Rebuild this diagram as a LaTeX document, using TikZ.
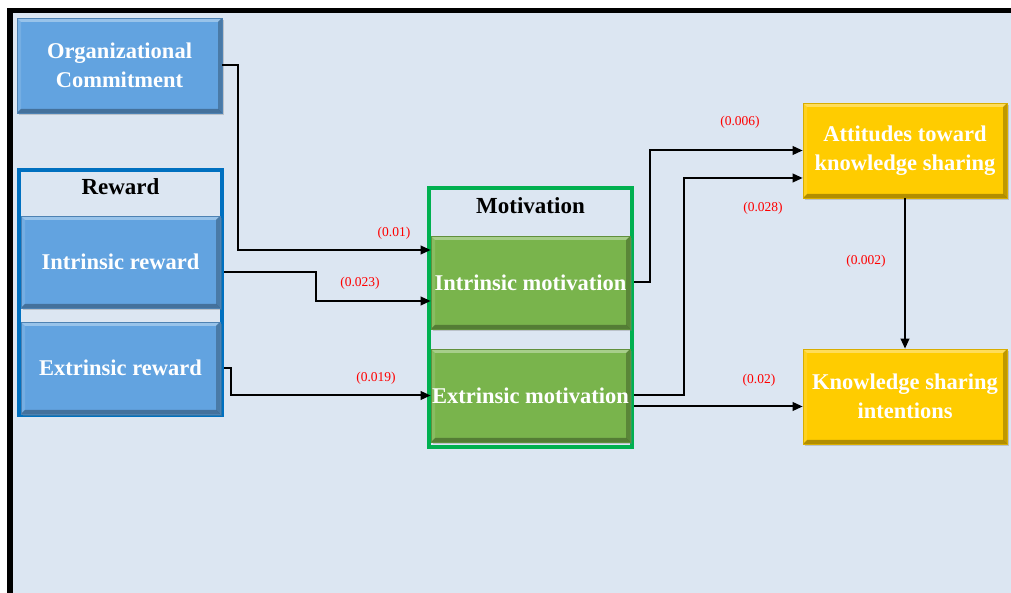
\documentclass[tikz,border=0pt]{standalone}
\usepackage{fontspec}
\setmainfont{Liberation Serif}
\usetikzlibrary{calc,arrows.meta,shadows}
\definecolor{bgc}{HTML}{DCE6F2}
\definecolor{bluec}{HTML}{62A3E0}
\definecolor{blueln}{HTML}{0070C0}
\definecolor{greenc}{HTML}{79B44C}
\definecolor{greenln}{HTML}{00B050}
\definecolor{yellc}{HTML}{FFCC00}
\definecolor{lblc}{HTML}{FF0000}
\tikzset{
  ar/.style={-{Triangle[length=10pt,width=8.5pt]},line width=2pt,black},
  bevel/.style={path picture={
    \coordinate (ppnw) at (path picture bounding box.north west);
    \coordinate (ppse) at (path picture bounding box.south east);
    \fill[white,opacity=.35] (ppnw) -- (ppnw -| ppse) -- ++(-4,-4) -- ($(ppnw)+(4,-4)$) -- cycle;
    \fill[white,opacity=.12] (ppnw) -- (ppnw |- ppse) -- ++(4,4) -- ($(ppnw)+(4,-4)$) -- cycle;
    \fill[black,opacity=.25] (ppse) -- (ppse |- ppnw) -- ++(-4,-4) -- ($(ppse)+(-4,4)$) -- cycle;
    \fill[black,opacity=.3] (ppse) -- (ppnw |- ppse) -- ++(4,4) -- ($(ppse)+(-4,4)$) -- cycle;}},
  cbox/.style={bevel,align=center,text=white,inner xsep=0.5pt,inner ysep=2pt,line width=.6pt,
    font=\fontsize{22.5}{29.5}\selectfont\bfseries,
    drop shadow={opacity=.35,shadow xshift=1.5pt,shadow yshift=-2pt}},
  blbox/.style={cbox,fill=bluec,draw=bluec!80!black},
  grbox/.style={cbox,fill=greenc,draw=greenc!80!black},
  ylbox/.style={cbox,fill=yellc,draw=yellc!85!black},
  grp/.style={line width=4pt,fill=bgc},
  ttl/.style={font=\fontsize{23}{28}\selectfont\bfseries},
  lbl/.style={text=lblc,font=\fontsize{13.5}{15}\selectfont}
}
\begin{document}
\begin{tikzpicture}[x=1pt,y=1pt]
\useasboundingbox (0,0) rectangle (1011,593);
\fill[bgc] (13,0) rectangle (1011,580);
\fill[black] (7,0) rectangle (13,585);
\fill[black] (7,580) rectangle (1011,585);
% left side
\node[blbox,minimum width=205,minimum height=95] (org) at (119.5,527.5) {Organizational\\Commitment};
\node[grp,draw=blueln,minimum width=203,minimum height=245] (rwd) at (120.5,300.5) {};
\node[ttl] (rwdt) at (120.5,406) {Reward};
\node[blbox,minimum width=199,minimum height=92] (ir) at (120.5,331) {Intrinsic reward};
\node[blbox,minimum width=199,minimum height=92] (er) at (120.5,225) {Extrinsic reward};
% middle
\node[grp,draw=greenln,minimum width=203,minimum height=259] (mot) at (530.5,275.5) {};
\node[ttl] (mott) at (530.5,387) {Motivation};
\node[grbox,minimum width=199,minimum height=93] (im) at (530.5,310.5) {Intrinsic motivation};
\node[grbox,minimum width=199,minimum height=93] (em) at (530.5,197.5) {Extrinsic motivation};
% right side
\node[ylbox,minimum width=204,minimum height=95] (att) at (905,442.5) {Attitudes toward\\knowledge sharing};
\node[ylbox,minimum width=204,minimum height=95] (ksi) at (905,196.5) {Knowledge sharing\\intentions};
% paths
\coordinate (b1) at (238,343);
\coordinate (b2) at (316,292);
\coordinate (b5) at (684,415);
\draw[ar] (org.east) -| (b1) -- (b1 -| im.west);
\draw[ar] ($(rwd.east |- ir.east)+(0,-10)$) -| (b2) -- (b2 -| im.west);
\draw[ar] (rwd.east |- er.east) -- ++(7,0) |- (em.west);
\draw[ar] (mot.east |- im.east) -- ++(16,0) |- (att.west);
\draw[ar] (mot.east |- em.east) -| (b5) -- (b5 -| att.west);
\draw[ar] ($(mot.east |- em.east)+(0,-11)$) -- ($(ksi.west |- em.east)+(0,-11)$);
\draw[ar] (att.south) -- (att.south |- ksi.north);
% weights
\node[lbl] (w1) at (394,360) {(0.01)};
\node[lbl] (w2) at (360,310) {(0.023)};
\node[lbl] (w3) at (376,215) {(0.019)};
\node[lbl] (w4) at (740,471) {(0.006)};
\node[lbl] (w5) at (763,385) {(0.028)};
\node[lbl] (w6) at (759,213) {(0.02)};
\node[lbl] (w7) at (866,332) {(0.002)};
\end{tikzpicture}
\end{document}
